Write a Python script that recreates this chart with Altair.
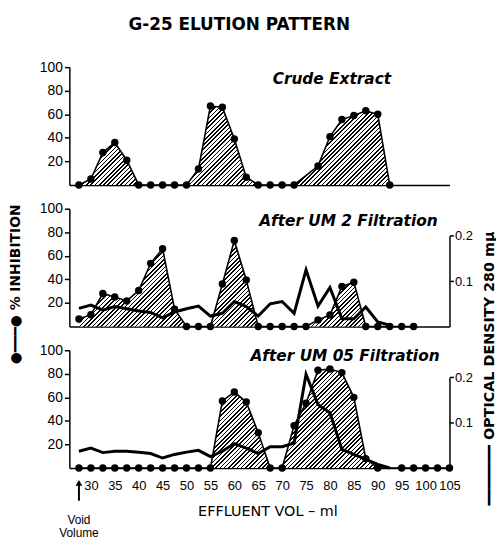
import altair as alt
import pandas as pd

TITLE = "G-25 ELUTION  PATTERN"
X_TITLE = "EFFLUENT  VOL – ml"
LEFT_TITLE = "●━━━●   %  INHIBITION"
RIGHT_TITLE = "━━━━━━━   OPTICAL  DENSITY  280 mμ"
PANEL_LABELS = ["Crude Extract", "After UM 2 Filtration", "After UM 05 Filtration"]
X_TICKS = [30, 35, 40, 45, 50, 55, 60, 65, 70, 75, 80, 85, 90, 95, 100, 105]
Y_TICKS = [20, 40, 60, 80, 100]
OD_TICKS = [0.1, 0.2]
VOID_VOLUME = 27.5

# Crude extract
VOL_TOP = [27.5, 30, 32.5, 35, 37.5, 40, 42.5, 45, 47.5, 50, 52.5, 55, 57.5, 60, 62.5,
           65, 67.5, 70, 72.5, 77.5, 80, 82.5, 85, 87.5, 90, 92.5]
INH_TOP = [0, 5, 27.5, 36, 21, 0, 0, 0, 0, 0, 13.5, 67, 66, 39, 6.5,
           0, 0, 0, 0, 16, 41, 55.5, 59, 63, 60, 0]

# After UM 2
VOL_MID = [27.5, 30, 32.5, 35, 37.5, 40, 42.5, 45, 47.5, 50, 52.5, 55, 57.5, 60, 62.5,
           65, 67.5, 70, 72.5, 75, 77.5, 80, 82.5, 85, 87.5, 90, 92.5, 95, 97.5]
INH_MID = [6.4, 10, 28, 25, 21.7, 30.5, 53.6, 66, 14.7, 0, 0, 0, 36, 73, 39.4,
           0, 0, 0, 0, 0, 5.6, 9.7, 34, 37.5, 0, 0, 0, 0, 0]
VOL_MID_OD = [27.5, 30, 32.5, 35, 37.5, 40, 42.5, 45, 47.5, 50, 52.5, 55, 57.5, 60, 62.5,
              65, 67.5, 70, 72.5, 75, 77.5, 80, 82.5, 85, 87.5, 90, 92.5]
OD_MID = [0.040, 0.047, 0.036, 0.044, 0.039, 0.034, 0.031, 0.019, 0.032, 0.039, 0.045,
          0.023, 0.029, 0.055, 0.044, 0.023, 0.050, 0.055, 0.029, 0.125, 0.045, 0.086,
          0.017, 0.017, 0.043, 0.010, 0.003]

# After UM 05
VOL_BOT = [27.5, 30, 32.5, 35, 37.5, 40, 42.5, 45, 47.5, 50, 52.5, 55, 57.5, 60, 62.5,
           65, 67.5, 70, 72.5, 75, 77.5, 80, 82.5, 85, 87.5, 90, 95, 97.5, 100, 102.5, 105]
INH_BOT = [0, 0, 0, 0, 0, 0, 0, 0, 0, 0, 0, 0, 57, 64.5, 56,
           30, 0, 0, 36, 55, 83, 84, 81, 60, 8, 0, 0, 0, 0, 0, 0]
VOL_BOT_OD = [27.5, 30, 32.5, 35, 37.5, 40, 42.5, 45, 47.5, 50, 52.5, 55, 57.5, 60, 62.5,
              65, 67.5, 70, 72.5, 75, 77.5, 80, 82.5, 85, 87.5, 90, 92.5]
OD_BOT = [0.037, 0.044, 0.034, 0.037, 0.037, 0.035, 0.032, 0.022, 0.030, 0.035, 0.039,
          0.025, 0.037, 0.054, 0.044, 0.032, 0.047, 0.047, 0.055, 0.207, 0.140, 0.122,
          0.041, 0.030, 0.019, 0.008, 0.0]

W, H = 384, 119
X_DOMAIN = [25.5, 105]
PX_PER_ML = W / (X_DOMAIN[1] - X_DOMAIN[0])
OD_FRAC = 0.77  # fraction of panel height at OD 0.2
FONT = "Liberation Sans"
WIDE = "DejaVu Sans"


def hatch(vols, vals, period=4.3, frac=0.38):
    w = (max(vols) - min(vols)) * PX_PER_ML
    h = max(vals) * H / 100.0
    k = (w + h) * w / (w * w + h * h)
    n = int((w + h) / period)
    stops = []
    for i in range(n):
        a, b, c = i / n, (i + frac) / n, (i + 1) / n
        stops += [{"offset": a, "color": "black"}, {"offset": b, "color": "black"},
                  {"offset": b, "color": "white"}, {"offset": c, "color": "white"}]
    return {"gradient": "linear", "x1": 0, "y1": 0, "x2": k, "y2": k * h / w, "stops": stops}


def xaxis(bottom):
    if bottom:
        return alt.Axis(values=X_TICKS, ticks=False, labelPadding=12, labelFontSize=13,
                        title=X_TITLE, titleFontSize=14.5, titleFont=WIDE,
                        titleFontWeight="normal", titlePadding=12, titleX=200,
                        grid=False, labelFlush=False)
    return alt.Axis(labels=False, ticks=False, title=None, grid=False)


def yaxis(title):
    if title:
        return alt.Axis(values=Y_TICKS, tickSize=5, labelPadding=2, labelFontSize=14, grid=False,
                        title=title, titleFontSize=14, titleFont=WIDE, titleY=76,
                        titleFontWeight="bold", titlePadding=17)
    return alt.Axis(values=Y_TICKS, tickSize=5, labelPadding=2, labelFontSize=14, grid=False,
                    title=None)


def panel(vols, inh, label, label_x, label_y, bottom=False, left_title=None,
          od_vols=None, od=None, right_title=None):
    df = pd.DataFrame({"vol": vols, "inh": inh})
    xa = xaxis(bottom)
    ya = yaxis(left_title)
    X = alt.X("vol:Q", scale=alt.Scale(domain=X_DOMAIN, nice=False, zero=False), axis=xa)
    Y = alt.Y("inh:Q", scale=alt.Scale(domain=[0, 100], nice=False), axis=ya)
    area = alt.Chart(df).mark_area(fill=hatch(vols, inh), strokeWidth=0).encode(x=X, y=Y)
    line = alt.Chart(df).mark_line(color="black", strokeWidth=1.6).encode(x=X, y=Y)
    pts = alt.Chart(df).mark_circle(color="black", size=56, opacity=1).encode(x=X, y=Y)
    txt = alt.Chart(pd.DataFrame({"label": [label]})).mark_text(
        align="right", baseline="middle", fontSize=15.5, fontStyle="italic",
        fontWeight="bold", font=WIDE, color="black"
    ).encode(x=alt.value(label_x), y=alt.value(label_y), text="label:N")
    layers = [area, line, pts, txt]
    if bottom:
        vdf = pd.DataFrame({"vol": [VOID_VOLUME], "label": ["Void\nVolume"]})
        arrow = alt.Chart(vdf).mark_rule(color="black", strokeWidth=2).encode(
            x=X, y=alt.value(H + 16), y2=alt.value(H + 33))
        head = alt.Chart(vdf).mark_point(shape="triangle-up", filled=True, color="black",
                                         size=45, opacity=1).encode(x=X, y=alt.value(H + 15))
        vtxt = alt.Chart(vdf).mark_text(baseline="top", fontSize=12, lineHeight=13,
                                        font=FONT, color="black", lineBreak="\n").encode(
            x=X, y=alt.value(H + 48), text="label:N")
        layers += [arrow, head, vtxt]
    inner = alt.layer(*layers)
    if od is None:
        return inner.properties(width=W, height=H)
    odf = pd.DataFrame({"vol": od_vols, "od": od})
    if right_title:
        ra = alt.Axis(orient="right", values=OD_TICKS, format=".1f", tickSize=4, labelPadding=1,
                      labelFontSize=13, grid=False, title=right_title, titleFontSize=14.5,
                      titleFont=WIDE, titleFontWeight="bold", titleAngle=270,
                      titleX=40, titleY=18, titleAlign="center", titleBaseline="middle")
    else:
        ra = alt.Axis(orient="right", values=OD_TICKS, format=".1f", tickSize=4, labelPadding=1,
                      labelFontSize=13, grid=False, title=None)
    odline = alt.Chart(odf).mark_line(color="black", strokeWidth=3, strokeJoin="miter").encode(
        x=X,
        y=alt.Y("od:Q", scale=alt.Scale(domain=[0, 0.2], range=[H, H - OD_FRAC * H], nice=False),
                axis=ra))
    return alt.layer(inner, odline).resolve_scale(y="independent").properties(width=W, height=H)


top = panel(VOL_TOP, INH_TOP, PANEL_LABELS[0], 325, 12)
mid = panel(VOL_MID, INH_MID, PANEL_LABELS[1], 372, 12, left_title=LEFT_TITLE,
            od_vols=VOL_MID_OD, od=OD_MID)
bot = panel(VOL_BOT, INH_BOT, PANEL_LABELS[2], 374, 6, bottom=True,
            od_vols=VOL_BOT_OD, od=OD_BOT, right_title=RIGHT_TITLE)

chart = alt.vconcat(top, mid, bot, spacing=24, bounds="flush").properties(
    title=alt.TitleParams(TITLE, fontSize=17, fontWeight="bold", font=WIDE, offset=27,
                          anchor="middle", dx=-13, color="black"),
    padding={"left": 0, "top": 5, "right": 0, "bottom": 0},
    background="white",
).configure_view(stroke=None).configure_axis(
    labelFont=FONT, titleFont=FONT, labelColor="black", titleColor="black",
    domainColor="black", tickColor="black", domainWidth=1.5, tickWidth=1.5
)

chart.save("out.html", embed_options={"renderer": "svg", "actions": False})
